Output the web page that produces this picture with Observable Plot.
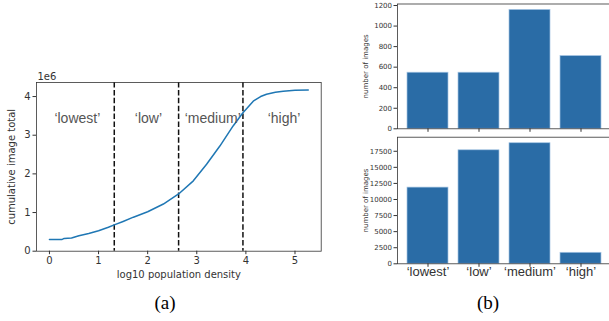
<!DOCTYPE html>
<html><head><meta charset="utf-8">
<script src="https://cdn.jsdelivr.net/npm/d3@7"></script>
<script src="https://cdn.jsdelivr.net/npm/@observablehq/plot@0.6"></script>
<style>
html,body{margin:0;padding:0;background:#fff;overflow:hidden}
#wrap{position:relative;width:609px;height:321px;overflow:hidden;background:#fff}
.panel{position:absolute}
.cap{position:absolute;font-family:"Liberation Serif","DejaVu Serif",serif;font-size:19px;color:#000;transform:translate(-50%,-50%);white-space:nowrap}
</style></head><body><div id="wrap"></div>
<script>
// ---- data ----
const densityX = [0, 0.1, 0.25, 0.3, 0.45, 0.6, 0.8, 1.0, 1.2, 1.32, 1.5, 1.71, 2.0, 2.32, 2.63, 2.93, 3.2, 3.47, 3.74, 3.94, 4.15, 4.3, 4.42, 4.6, 4.76, 5.0, 5.27];
const cumulativeImages = [300000, 300000, 300000, 330000, 340000, 400000, 460000, 530000, 620000, 680000, 770000, 880000, 1020000, 1220000, 1480000, 1820000, 2250000, 2720000, 3240000, 3580000, 3880000, 4000000, 4060000, 4110000, 4140000, 4160000, 4170000];
const cutPoints = [1.32, 2.63, 3.94];
const categories = ["‘lowest’", "‘low’", "‘medium’", "‘high’"];
const countsTop = [546, 546, 1157, 708];
const countsBottom = [11850, 17650, 18750, 1710];
const xTicksLeft = [0, 1, 2, 3, 4, 5];
const yTicksLeft = [0, 1e6, 2e6, 3e6, 4e6];
const yTicksTop = [0, 200, 400, 600, 800, 1000, 1200];
const yTicksBottom = [0, 2500, 5000, 7500, 10000, 12500, 15000, 17500];

const wrap = document.getElementById("wrap");
function place(el, left, top) {
  el.classList.add("panel");
  el.style.left = left + "px";
  el.style.top = top + "px";
  wrap.appendChild(el);
}
const ink = "#333";
const plain = d => String(d);

// ---- left panel ----
const curve = densityX.map((x, i) => ({x, y: cumulativeImages[i]}));
const xmin = d3.min(densityX), xmax = d3.max(densityX);
const xpad = 0.05 * (xmax - xmin);
const xDomain = [xmin - xpad, xmax + xpad];
const ymin = d3.min(cumulativeImages), ymax = d3.max(cumulativeImages);
const yTop = ymax + 0.05 * (ymax - ymin);
const bounds = [xDomain[0], ...cutPoints, xDomain[1]];
const regionLabels = categories.map((c, i) => ({label: c, x: (bounds[i] + bounds[i + 1]) / 2 + 0.04}));
const regionLabelY = 3.42e6;

const left = Plot.plot({
  width: 330, height: 230,
  marginLeft: 36, marginRight: 9.3, marginTop: 22, marginBottom: 39.3,
  style: {fontFamily: "DejaVu Sans", fontSize: "10px", color: ink, background: "transparent", overflow: "visible"},
  x: {domain: xDomain},
  y: {domain: [0, yTop]},
  marks: [
    Plot.axisX({ticks: xTicksLeft, tickSize: 3.5, tickPadding: 2.5, tickFormat: plain, label: null, fontSize: 10, stroke: ink}),
    Plot.axisY({ticks: yTicksLeft, tickSize: 3.5, tickPadding: 2.5, tickFormat: d => String(d / 1e6), label: null, fontSize: 10, stroke: ink}),
    Plot.ruleX(cutPoints, {stroke: "#111", strokeWidth: 1.5, strokeDasharray: "5.5,2.4"}),
    Plot.line(curve, {x: "x", y: "y", stroke: "#1f77b4", strokeWidth: 1.5}),
    Plot.text(regionLabels, {x: "x", y: () => regionLabelY, text: "label", fontFamily: "Liberation Sans", fontSize: 14, fill: "#555"}),
    Plot.frame({stroke: ink, strokeWidth: 0.8}),
    Plot.text(["1e6"], {text: d => d, frameAnchor: "top-left", textAnchor: "start", lineAnchor: "bottom", dx: 1, dy: -3, fontSize: 10, fill: ink}),
    Plot.text(["cumulative image total"], {text: d => d, frameAnchor: "left", textAnchor: "middle", rotate: -90, dx: -24.5, fontSize: 10, fill: ink}),
    Plot.text(["log10 population density"], {text: d => d, frameAnchor: "bottom", dy: 26.3, fontSize: 10, fill: ink})
  ]
});
place(left, 0, 60);

// ---- right panels ----
function barPanel(values, ticks, height, marginTop, marginBottom, showLabels) {
  const data = categories.map((c, i) => ({cat: c, v: values[i]}));
  const vmax = d3.max(values);
  return Plot.plot({
    width: 275, height,
    marginLeft: 57, marginRight: 4.2, marginTop, marginBottom,
    style: {fontFamily: "DejaVu Sans", fontSize: "7px", color: ink, background: "transparent", overflow: "visible"},
    x: {type: "band", domain: categories, paddingInner: 0.2, paddingOuter: 0.19},
    y: {domain: [0, vmax * 1.05]},
    marks: [
      Plot.barY(data, {x: "cat", y: "v", fill: "#2a6ca6", stroke: "#a3c4e3", strokeWidth: 0.7}),
      Plot.frame({stroke: ink, strokeWidth: 0.8}),
      Plot.axisY({ticks, tickSize: 3.5, tickPadding: 2, tickFormat: plain, label: null, fontSize: 7, stroke: ink}),
      showLabels
        ? Plot.axisX({tickSize: 3.5, tickPadding: -0.5, label: null, fontSize: 13, fontFamily: "Liberation Sans", fill: ink, stroke: ink})
        : Plot.axisX({tickSize: 3.5, tickFormat: () => "", label: null, stroke: ink}),
      Plot.text(["number of images"], {text: d => d, frameAnchor: "left", textAnchor: "middle", rotate: -90, dx: -32, fontSize: 7, fill: ink})
    ]
  });
}
place(barPanel(countsTop, yTicksTop, 135, 3.5, 6.7, false), 340, 0);
place(barPanel(countsBottom, yTicksBottom, 160, 6.7, 26.7, true), 340, 130);

// ---- captions ----
[["(a)", 165, 303], ["(b)", 488, 303]].forEach(([t, x, y]) => {
  const d = document.createElement("div");
  d.className = "cap";
  d.textContent = t;
  d.style.left = x + "px";
  d.style.top = y + "px";
  wrap.appendChild(d);
});
</script></body></html>
